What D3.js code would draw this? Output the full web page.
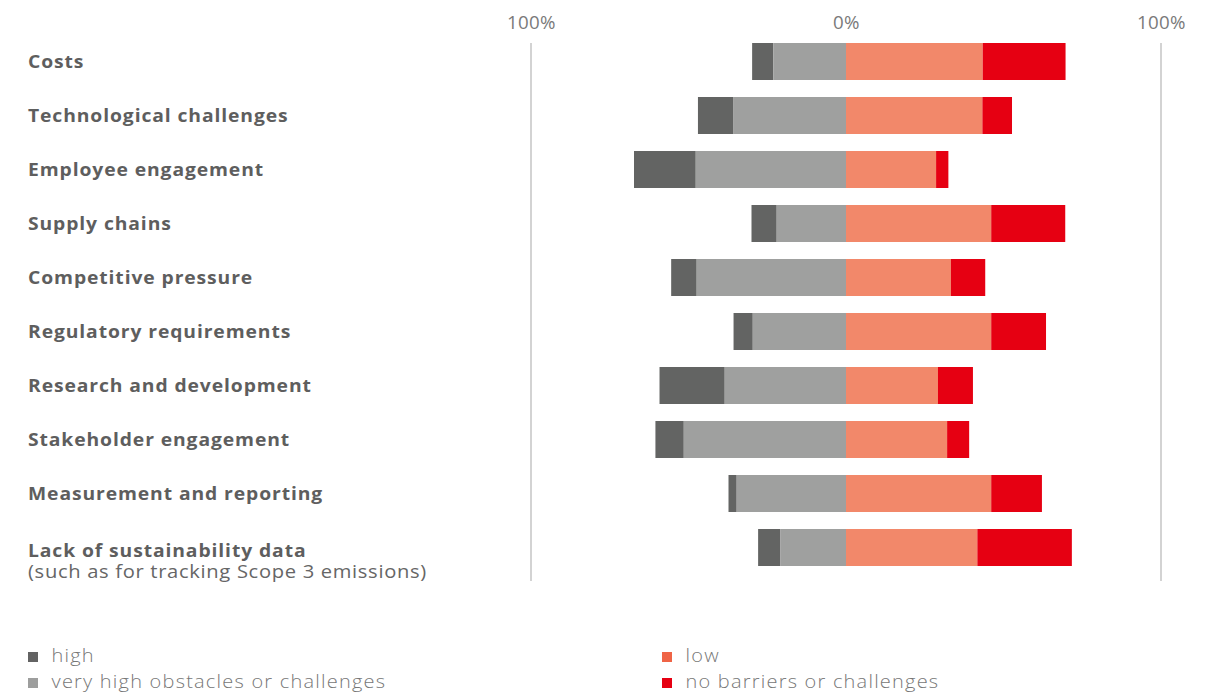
<!DOCTYPE html>
<html>
<head>
<meta charset="utf-8">
<script src="https://cdn.jsdelivr.net/npm/d3@7"></script>
<style>
  html, body { margin: 0; padding: 0; background: #ffffff; }
  svg { display: block; }
  .cat { font-family: "Open Sans", sans-serif; font-weight: 700; font-size: 17px; fill: #5e5e5e; letter-spacing: 0.8px; }
  .sub { font-family: "Open Sans", sans-serif; font-weight: 400; font-size: 18px; fill: #666666; letter-spacing: 0.6px; }
  .tick { font-family: "Open Sans", sans-serif; font-weight: 400; font-size: 18px; fill: #7a7a7a; letter-spacing: 0.3px; }
  .leg { font-family: "Open Sans", sans-serif; font-weight: 300; font-size: 18px; fill: #777777; letter-spacing: 1.1px; }
</style>
</head>
<body>
<svg id="chart" width="1220" height="693"></svg>
<script>
// Barriers to sustainability action, share of respondents (%)
const categories = [
  "Costs",
  "Technological challenges",
  "Employee engagement",
  "Supply chains",
  "Competitive pressure",
  "Regulatory requirements",
  "Research and development",
  "Stakeholder engagement",
  "Measurement and reporting",
  "Lack of sustainability data"
];
const subLabels = ["", "", "", "", "", "", "", "", "", "(such as for tracking Scope 3 emissions)"];

// left of zero: outermost first
const high     = [6.7, 11.3, 19.6, 8.0, 8.1, 6.1, 20.7, 9.0, 2.6, 7.1];
const veryHigh = [23.1, 35.7, 47.7, 22.0, 47.4, 29.6, 38.5, 51.5, 34.7, 20.8];
// right of zero: innermost first
const low      = [43.4, 43.3, 28.6, 46.1, 33.3, 46.1, 29.2, 32.1, 46.1, 41.7];
const noBarrier = [26.3, 9.4, 3.9, 23.5, 10.9, 17.4, 11.1, 7.0, 16.1, 30.0];

const tickValues = [-100, 0, 100];
const tickLabels = ["100%", "0%", "100%"];

const seriesNames = ["high", "very high obstacles or challenges", "low", "no barriers or challenges"];
const barColors = ["#636463", "#9fa09f", "#f2886a", "#e60012"];
const legendColors = ["#636363", "#9d9e9d", "#ef6446", "#e60012"];

// horizontal stretch that widens the text faces
const catStretch = 1.135;
const subStretch = 1.12;
const legStretch = 1.11;

const svg = d3.select("#chart");

const x = d3.scaleLinear().domain([-100, 100]).range([531, 1161]);
const y = d3.scaleBand()
  .domain(categories)
  .range([34.5, 574.5])
  .paddingInner(17 / 54)
  .paddingOuter(17 / 108);

// stacked segments: each row gets [start, end] in signed percent
const rows = categories.map((c, i) => {
  const h = high[i], vh = veryHigh[i], l = low[i], n = noBarrier[i];
  return {
    cat: c,
    segs: [
      { key: 0, x0: -(vh + h), x1: -vh },
      { key: 1, x0: -vh, x1: 0 },
      { key: 2, x0: 0, x1: l },
      { key: 3, x0: l, x1: l + n }
    ]
  };
});

// vertical reference lines at ±100%
svg.append("g").selectAll("line")
  .data([-100, 100])
  .join("line")
  .attr("x1", d => x(d)).attr("x2", d => x(d))
  .attr("y1", y(categories[0]))
  .attr("y2", 581)
  .attr("stroke", "#c4c4c4")
  .attr("stroke-width", 1.5);

// top axis labels
const axis = d3.axisTop(x).tickValues(tickValues).tickFormat((d, i) => tickLabels[i]).tickSize(0).tickPadding(0);
const axisG = svg.append("g").attr("transform", "translate(0,29)").call(axis);
axisG.select(".domain").remove();
axisG.selectAll("text").attr("class", "tick").attr("dy", 0).attr("fill", null)
  .attr("transform", "scale(1.04,1)");

// bars
const rowG = svg.append("g").selectAll("g")
  .data(rows)
  .join("g")
  .attr("transform", d => `translate(0,${y(d.cat)})`);

rowG.selectAll("rect")
  .data(d => d.segs)
  .join("rect")
  .attr("x", d => x(d.x0))
  .attr("width", d => x(d.x1) - x(d.x0))
  .attr("height", y.bandwidth())
  .attr("fill", d => barColors[d.key]);

// category labels
const labels = svg.append("g").selectAll("g")
  .data(categories)
  .join("g")
  .attr("transform", d => `translate(28,${y(d) + y.bandwidth() / 2})`);

labels.append("text")
  .attr("class", "cat")
  .attr("y", (d, i) => subLabels[i] ? 9 : 6)
  .attr("transform", `scale(${catStretch},1)`)
  .text(d => d);

labels.filter((d, i) => subLabels[i])
  .append("text")
  .attr("class", "sub")
  .attr("y", 31)
  .attr("transform", `scale(${subStretch},1)`)
  .text(d => subLabels[categories.indexOf(d)]);

// legend in two columns
const legendPos = [
  { col: 28, row: 0 },
  { col: 28, row: 1 },
  { col: 662, row: 0 },
  { col: 662, row: 1 }
];
const legend = svg.append("g").selectAll("g")
  .data(seriesNames)
  .join("g")
  .attr("transform", (d, i) => `translate(${legendPos[i].col},${652 + legendPos[i].row * 26})`);

legend.append("rect")
  .attr("width", 10).attr("height", 10)
  .attr("fill", (d, i) => legendColors[i]);

legend.append("text")
  .attr("class", "leg")
  .attr("transform", `translate(23.5,10) scale(${legStretch},1)`)
  .text(d => d);
</script>
</body>
</html>
